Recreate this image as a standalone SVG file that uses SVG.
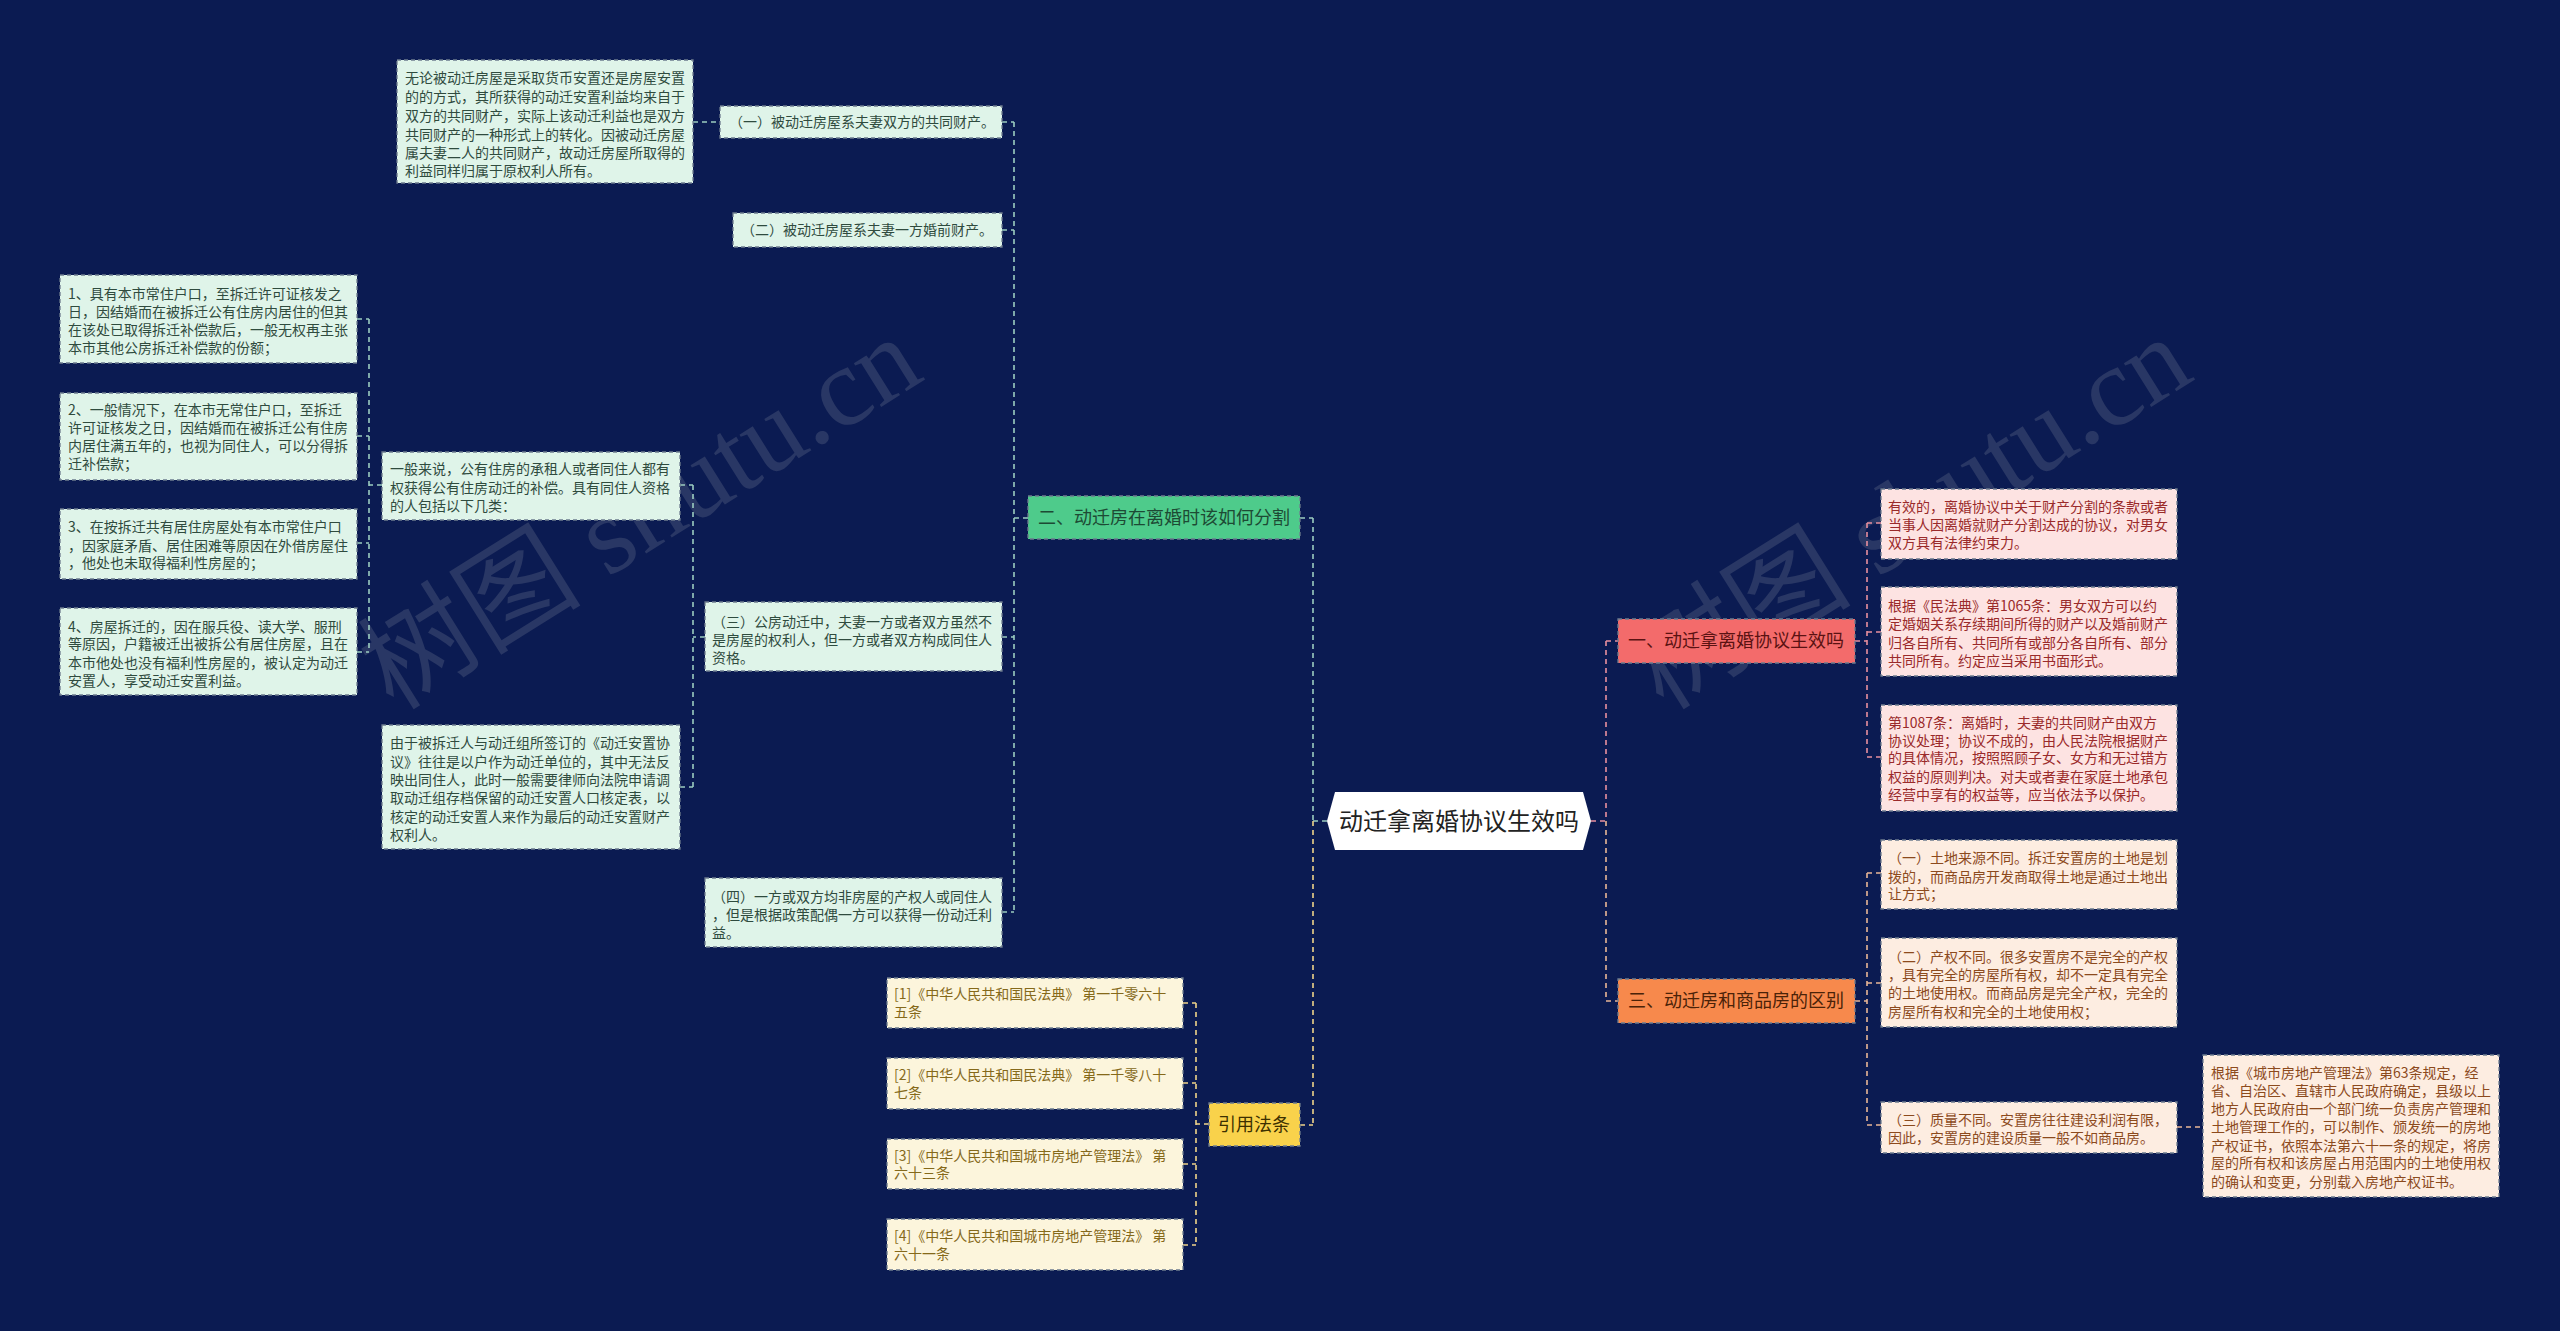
<svg xmlns="http://www.w3.org/2000/svg" width="2560" height="1331" viewBox="0 0 2560 1331">
<style>
text{font-family:"Noto Sans CJK SC","Microsoft YaHei",sans-serif}
.bg{fill:#0b1b52}
.lf rect{stroke:#6e7c8e;stroke-width:1.3;stroke-dasharray:4 3}
.lf text{font-size:14px}
.g rect{fill:#dff4e9}.g text{fill:#2f4b3e}
.r rect{fill:#fde3e2}.r text{fill:#9a2a2a}
.o rect{fill:#fdede1}.o text{fill:#8c4a1d}
.y rect{fill:#fcf5dc}.y text{fill:#85691a}
.br rect{stroke:#6e7c8e;stroke-width:1.3;stroke-dasharray:4 3}
.br text{font-size:18px;text-anchor:middle}
.c{fill:none;stroke-width:1.6;stroke-dasharray:5 4}
.cg{stroke:#9ccdc0}.cr{stroke:#e8909e}.co{stroke:#e9b796}.cy{stroke:#efd489}
.wm{font-family:"Liberation Serif","Noto Sans CJK SC",serif;font-size:112px;fill:#a0a6b0;opacity:0.2}
</style>
<rect class="bg" x="0" y="0" width="2560" height="1331"/>
<text class="wm" transform="translate(660,545) rotate(-32)" text-anchor="middle">树图 shutu.cn</text>
<text class="wm" transform="translate(1930,545) rotate(-32)" text-anchor="middle">树图 shutu.cn</text>

<g id="connectors">
<path class="c cg" d="M1028,518 H1014 M1014,122 V912 M1002,122 H1014 M1002,230 H1014 M1002,637 H1014 M1002,912 H1014"/>
<path class="c cg" d="M693,122 H720"/>
<path class="c cg" d="M705,637 H693 M693,485 V787 M680,485 H693 M680,787 H693"/>
<path class="c cg" d="M382,485 H369 M369,319 V652 M357,319 H369 M357,436 H369 M357,543 H369 M357,652 H369"/>
<path class="c cg" d="M1327,821 H1313 M1313,518 V821 M1300,518 H1313"/>
<path class="c cy" d="M1313,821 V1125 M1300,1125 H1313"/>
<path class="c cy" d="M1209,1124 H1196 M1196,1003 V1245 M1183,1003 H1196 M1183,1083 H1196 M1183,1164 H1196 M1183,1245 H1196"/>
<path class="c cr" d="M1591,821 H1606 M1606,641 V821 M1606,641 H1618"/>
<path class="c co" d="M1606,821 V1001 M1606,1001 H1618"/>
<path class="c cr" d="M1855,641 H1867 M1867,523 V757 M1867,523 H1881 M1867,632 H1881 M1867,757 H1881"/>
<path class="c co" d="M1855,1001 H1867 M1867,873 V1125 M1867,873 H1881 M1867,983 H1881 M1867,1125 H1881 M2177,1127 H2203"/>
</g>

<g id="center">
<polygon points="1327,821 1335,792 1583,792 1591,821 1583,850 1335,850" fill="#ffffff"/>
<text x="1459" y="830" font-size="24" text-anchor="middle" fill="#222">动迁拿离婚协议生效吗</text>
</g>

<g id="b2" class="br"><rect x="1028" y="496" width="272" height="43" fill="#4ecb8b"/><text x="1164" y="524" fill="#1d4a34">二、动迁房在离婚时该如何分割</text></g>
<g id="b1" class="br"><rect x="1618" y="619" width="237" height="44" fill="#f36b6b"/><text x="1736" y="647" fill="#5a1212">一、动迁拿离婚协议生效吗</text></g>
<g id="b3" class="br"><rect x="1618" y="979" width="237" height="44" fill="#f7894c"/><text x="1736" y="1007" fill="#4a2208">三、动迁房和商品房的区别</text></g>
<g id="b4" class="br"><rect x="1209" y="1103" width="91" height="43" fill="#f9d24b"/><text x="1254" y="1131" fill="#3d3000">引用法条</text></g>

<g id="n_g1" class="lf g"><rect x="720" y="106" width="282" height="32"/><text x="729" y="127">（一）被动迁房屋系夫妻双方的共同财产。</text></g>
<g id="n_g1a" class="lf g"><rect x="397" y="60" width="296" height="123"/>
<text x="405" y="83">无论被动迁房屋是采取货币安置还是房屋安置</text>
<text x="405" y="102">的的方式，其所获得的动迁安置利益均来自于</text>
<text x="405" y="121">双方的共同财产，实际上该动迁利益也是双方</text>
<text x="405" y="140">共同财产的一种形式上的转化。因被动迁房屋</text>
<text x="405" y="158">属夫妻二人的共同财产，故动迁房屋所取得的</text>
<text x="405" y="176">利益同样归属于原权利人所有。</text></g>
<g id="n_g2" class="lf g"><rect x="733" y="213" width="269" height="34"/><text x="741" y="235">（二）被动迁房屋系夫妻一方婚前财产。</text></g>
<g id="n_g3" class="lf g"><rect x="705" y="602" width="297" height="69"/>
<text x="712" y="627">（三）公房动迁中，夫妻一方或者双方虽然不</text>
<text x="712" y="645">是房屋的权利人，但一方或者双方构成同住人</text>
<text x="712" y="663">资格。</text></g>
<g id="n_g3a" class="lf g"><rect x="382" y="452" width="298" height="68"/>
<text x="390" y="474">一般来说，公有住房的承租人或者同住人都有</text>
<text x="390" y="493">权获得公有住房动迁的补偿。具有同住人资格</text>
<text x="390" y="511">的人包括以下几类：</text></g>
<g id="n_g3b" class="lf g"><rect x="382" y="725" width="298" height="124"/>
<text x="390" y="748">由于被拆迁人与动迁组所签订的《动迁安置协</text>
<text x="390" y="767">议》往往是以户作为动迁单位的，其中无法反</text>
<text x="390" y="785">映出同住人，此时一般需要律师向法院申请调</text>
<text x="390" y="803">取动迁组存档保留的动迁安置人口核定表，以</text>
<text x="390" y="822">核定的动迁安置人来作为最后的动迁安置财产</text>
<text x="390" y="840">权利人。</text></g>
<g id="n_q1" class="lf g"><rect x="60" y="275" width="297" height="88"/>
<text x="68" y="299">1、具有本市常住户口，至拆迁许可证核发之</text>
<text x="68" y="317">日，因结婚而在被拆迁公有住房内居住的但其</text>
<text x="68" y="335">在该处已取得拆迁补偿款后，一般无权再主张</text>
<text x="68" y="353">本市其他公房拆迁补偿款的份额；</text></g>
<g id="n_q2" class="lf g"><rect x="60" y="393" width="297" height="87"/>
<text x="68" y="415">2、一般情况下，在本市无常住户口，至拆迁</text>
<text x="68" y="433">许可证核发之日，因结婚而在被拆迁公有住房</text>
<text x="68" y="451">内居住满五年的，也视为同住人，可以分得拆</text>
<text x="68" y="469">迁补偿款；</text></g>
<g id="n_q3" class="lf g"><rect x="60" y="509" width="297" height="70"/>
<text x="68" y="532">3、在按拆迁共有居住房屋处有本市常住户口</text>
<text x="68" y="551">，因家庭矛盾、居住困难等原因在外借房屋住</text>
<text x="68" y="568">，他处也未取得福利性房屋的；</text></g>
<g id="n_q4" class="lf g"><rect x="60" y="608" width="297" height="87"/>
<text x="68" y="632">4、房屋拆迁的，因在服兵役、读大学、服刑</text>
<text x="68" y="649">等原因，户籍被迁出被拆公有居住房屋，且在</text>
<text x="68" y="668">本市他处也没有福利性房屋的，被认定为动迁</text>
<text x="68" y="686">安置人，享受动迁安置利益。</text></g>
<g id="n_g4" class="lf g"><rect x="705" y="878" width="297" height="69"/>
<text x="712" y="902">（四）一方或双方均非房屋的产权人或同住人</text>
<text x="712" y="920">，但是根据政策配偶一方可以获得一份动迁利</text>
<text x="712" y="938">益。</text></g>

<g id="n_l1" class="lf y"><rect x="887" y="978" width="296" height="50"/><text x="894" y="999">[1]《中华人民共和国民法典》 第一千零六十</text><text x="894" y="1017">五条</text></g>
<g id="n_l2" class="lf y"><rect x="887" y="1058" width="296" height="51"/><text x="894" y="1080">[2]《中华人民共和国民法典》 第一千零八十</text><text x="894" y="1098">七条</text></g>
<g id="n_l3" class="lf y"><rect x="887" y="1139" width="296" height="50"/><text x="894" y="1161">[3]《中华人民共和国城市房地产管理法》 第</text><text x="894" y="1178">六十三条</text></g>
<g id="n_l4" class="lf y"><rect x="887" y="1219" width="296" height="51"/><text x="894" y="1241">[4]《中华人民共和国城市房地产管理法》 第</text><text x="894" y="1259">六十一条</text></g>

<g id="n_r1" class="lf r"><rect x="1881" y="489" width="296" height="70"/>
<text x="1888" y="512">有效的，离婚协议中关于财产分割的条款或者</text>
<text x="1888" y="530">当事人因离婚就财产分割达成的协议，对男女</text>
<text x="1888" y="548">双方具有法律约束力。</text></g>
<g id="n_r2" class="lf r"><rect x="1881" y="587" width="296" height="89"/>
<text x="1888" y="611">根据《民法典》第1065条：男女双方可以约</text>
<text x="1888" y="629">定婚姻关系存续期间所得的财产以及婚前财产</text>
<text x="1888" y="648">归各自所有、共同所有或部分各自所有、部分</text>
<text x="1888" y="666">共同所有。约定应当采用书面形式。</text></g>
<g id="n_r3" class="lf r"><rect x="1881" y="705" width="296" height="106"/>
<text x="1888" y="728">第1087条：离婚时，夫妻的共同财产由双方</text>
<text x="1888" y="746">协议处理；协议不成的，由人民法院根据财产</text>
<text x="1888" y="763">的具体情况，按照照顾子女、女方和无过错方</text>
<text x="1888" y="782">权益的原则判决。对夫或者妻在家庭土地承包</text>
<text x="1888" y="800">经营中享有的权益等，应当依法予以保护。</text></g>

<g id="n_o1" class="lf o"><rect x="1881" y="840" width="296" height="69"/>
<text x="1888" y="863">（一）土地来源不同。拆迁安置房的土地是划</text>
<text x="1888" y="882">拨的，而商品房开发商取得土地是通过土地出</text>
<text x="1888" y="899">让方式；</text></g>
<g id="n_o2" class="lf o"><rect x="1881" y="938" width="296" height="89"/>
<text x="1888" y="962">（二）产权不同。很多安置房不是完全的产权</text>
<text x="1888" y="980">，具有完全的房屋所有权，却不一定具有完全</text>
<text x="1888" y="998">的土地使用权。而商品房是完全产权，完全的</text>
<text x="1888" y="1017">房屋所有权和完全的土地使用权；</text></g>
<g id="n_o3" class="lf o"><rect x="1881" y="1102" width="296" height="51"/>
<text x="1888" y="1125">（三）质量不同。安置房往往建设利润有限，</text>
<text x="1888" y="1143">因此，安置房的建设质量一般不如商品房。</text></g>
<g id="n_o3a" class="lf o"><rect x="2203" y="1055" width="296" height="142"/>
<text x="2211" y="1078">根据《城市房地产管理法》第63条规定，经</text>
<text x="2211" y="1096">省、自治区、直辖市人民政府确定，县级以上</text>
<text x="2211" y="1114">地方人民政府由一个部门统一负责房产管理和</text>
<text x="2211" y="1132">土地管理工作的，可以制作、颁发统一的房地</text>
<text x="2211" y="1151">产权证书，依照本法第六十一条的规定，将房</text>
<text x="2211" y="1168">屋的所有权和该房屋占用范围内的土地使用权</text>
<text x="2211" y="1187">的确认和变更，分别载入房地产权证书。</text></g>
</svg>
